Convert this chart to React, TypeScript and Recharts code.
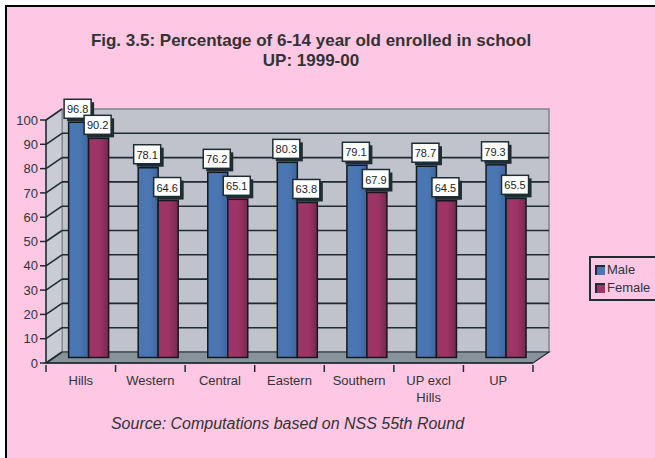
import React from "react";
import {
  BarChart,
  Bar,
  XAxis,
  YAxis,
  Legend,
  LabelList,
  ReferenceArea,
} from "recharts";

const categories = ["Hills", "Western", "Central", "Eastern", "Southern", "UP excl Hills", "UP"];
const seriesNames = ["Male", "Female"];
const male = [96.8, 78.1, 76.2, 80.3, 79.1, 78.7, 79.3];
const female = [90.2, 64.6, 65.1, 63.8, 67.9, 64.5, 65.5];
const yTicks = [0, 10, 20, 30, 40, 50, 60, 70, 80, 90, 100];

const data = categories.map((name, i) => ({ name, Male: male[i], Female: female[i] }));

const FONT = "Arial, 'Liberation Sans', sans-serif";
const PINK = "#FEC8E4";
const DARK = "#1E2C33";
// depth of the fake 3d box, and half of it for the columns
const DX = 16;
const DY = -11;
const PLOT_W = 487;

const Walls = (props: any) => {
  const { x, y, width: w, height: h } = props;
  const lines = yTicks.map((v) => {
    const yy = y + h * (1 - v / 100);
    return (
      <g key={v}>
        {v > 0 && v < 100 && (
          <line x1={x + DX} y1={yy + DY} x2={x + w + DX} y2={yy + DY} stroke={DARK} strokeWidth={1.6} />
        )}
        <line x1={x} y1={yy} x2={x + DX} y2={yy + DY} stroke={DARK} strokeWidth={1.6} />
      </g>
    );
  });
  return (
    <g>
      <rect x={x + DX} y={y + DY} width={w} height={h} fill="#C0C3CB" stroke="#7E868C" strokeWidth={1.5} />
      <polygon
        points={`${x},${y} ${x + DX},${y + DY} ${x + DX},${y + h + DY} ${x},${y + h}`}
        fill="#C9CCD3"
        stroke="#7E868C"
        strokeWidth={1}
      />
      <polygon
        points={`${x},${y + h} ${x + DX},${y + h + DY} ${x + w + DX},${y + h + DY} ${x + w},${y + h}`}
        fill="#87929A"
        stroke={DARK}
        strokeWidth={1.2}
      />
      {lines}
    </g>
  );
};

const makeColumn = (front: string, side: string, top: string) => (props: any) => {
  const { x, y, width, height } = props;
  if (!height || height <= 0) return null;
  const id = `g${front.slice(1)}`;
  return (
    <g transform={`translate(${DX / 2},${DY / 2})`}>
      <defs>
        <linearGradient id={id} x1="0" y1="0" x2="1" y2="0">
          <stop offset="0%" stopColor={front} />
          <stop offset="55%" stopColor={front} />
          <stop offset="100%" stopColor={side} />
        </linearGradient>
      </defs>
      <polygon
        points={`${x},${y} ${x + 3},${y - 2} ${x + width + 3},${y - 2} ${x + width},${y}`}
        fill={top}
      />
      <rect x={x} y={y} width={width} height={height} fill={`url(#${id})`} stroke="#15191C" strokeWidth={1.5} />
    </g>
  );
};

const ValueBox = (props: any) => {
  const { x, y, width, value } = props;
  const bw = 27;
  const bh = 19;
  const cx = x + width / 2 + DX / 2 - 1;
  const bottom = y + DY / 2 - 4;
  return (
    <g>
      <rect x={cx - bw / 2 + 3} y={bottom - bh + 3} width={bw} height={bh} fill={DARK} />
      <rect x={cx - bw / 2} y={bottom - bh} width={bw} height={bh} fill="#fff" stroke={DARK} strokeWidth={1.5} />
      <text x={cx} y={bottom - 5} textAnchor="middle" fontSize={11} fontFamily={FONT} fill="#222">
        {value}
      </text>
    </g>
  );
};

const CategoryTick = (props: any) => {
  const { x, y, payload, index } = props;
  const half = PLOT_W / categories.length / 2;
  const label: string = payload.value;
  const parts = label.length > 8 ? [label.slice(0, label.lastIndexOf(" ")), label.slice(label.lastIndexOf(" ") + 1)] : [label];
  return (
    <g>
      <line x1={x - half} y1={y - 6} x2={x - half} y2={y + 1} stroke={DARK} strokeWidth={1.5} />
      {index === categories.length - 1 && (
        <line x1={x + half} y1={y - 6} x2={x + half} y2={y + 1} stroke={DARK} strokeWidth={1.5} />
      )}
      <text x={x} y={y + 14} textAnchor="middle" fontSize={13} fontFamily={FONT} fill="#333">
        {parts.map((p, i) => (
          <tspan key={i} x={x} dy={i === 0 ? 0 : 17}>
            {p}
          </tspan>
        ))}
      </text>
    </g>
  );
};

const LegendBox = (props: any) => {
  const items = [...(props.payload || [])].sort(
    (a: any, b: any) => seriesNames.indexOf(a.value) - seriesNames.indexOf(b.value)
  );
  return (
    <div
      style={{
        border: `2px solid ${DARK}`,
        padding: "3px 4px 2px 4px",
        fontFamily: FONT,
        fontSize: 13,
        color: "#333",
        width: 58,
        lineHeight: "18px",
      }}
    >
      {items.map((it: any) => (
        <div key={it.value} style={{ display: "flex", alignItems: "center" }}>
          <span
            style={{
              display: "inline-block",
              width: 8,
              height: 8,
              background: it.color,
              borderTop: `2px solid ${DARK}`,
              borderLeft: `2px solid ${DARK}`,
              marginRight: 2,
            }}
          />
          {it.value}
        </div>
      ))}
    </div>
  );
};

export default function App() {
  return (
    <div style={{ position: "absolute", left: 0, top: 0, width: 655, height: 458, background: "#fff", overflow: "hidden" }}>
      <div
        style={{
          position: "absolute",
          left: 5,
          top: 5,
          width: 660,
          height: 470,
          background: PINK,
          border: "2px solid #000",
        }}
      />
      <div
        style={{
          position: "absolute",
          left: 0,
          top: 31,
          width: 622,
          textAlign: "center",
          fontFamily: FONT,
          fontWeight: "bold",
          fontSize: 17,
          lineHeight: "20px",
          color: "#333",
        }}
      >
        Fig. 3.5: Percentage of 6-14 year old enrolled in school
        <br />
        UP: 1999-00
      </div>
      <div
        style={{
          position: "absolute",
          left: 0,
          top: 415,
          width: 575,
          textAlign: "center",
          fontFamily: FONT,
          fontStyle: "italic",
          fontSize: 16,
          color: "#333",
        }}
      >
        Source: Computations based on NSS 55th Round
      </div>
      <div style={{ position: "absolute", left: 0, top: 0 }}>
        <BarChart
          width={655}
          height={458}
          data={data}
          margin={{ top: 120, right: 122, bottom: 60, left: 6 }}
          barCategoryGap="21%"
          barGap={0}
        >
          <ReferenceArea y1={0} y2={100} shape={<Walls />} zIndex={-100} ifOverflow="visible" />
          <XAxis
            dataKey="name"
            interval={0}
            height={35}
            axisLine={{ stroke: DARK, strokeWidth: 1.5 }}
            tickLine={false}
            tick={<CategoryTick />}
          />
          <YAxis
            width={40}
            domain={[0, 100]}
            ticks={yTicks}
            interval={0}
            axisLine={{ stroke: DARK, strokeWidth: 1.5 }}
            tickLine={{ stroke: DARK, strokeWidth: 1.5 }}
            tickSize={6}
            tick={{ fontSize: 13, fontFamily: FONT, fill: "#333" }}
          />
          <Legend
            layout="vertical"
            align="center"
            verticalAlign="middle"
            content={<LegendBox />}
            wrapperStyle={{ left: 589, top: 256, width: 70 }}
          />
          <Bar dataKey="Male" fill="#4A76B2" isAnimationActive={false} shape={makeColumn("#4A76B2", "#3E66A0", "#5C88C2")}>
            <LabelList dataKey="Male" content={<ValueBox />} />
          </Bar>
          <Bar dataKey="Female" fill="#9C3466" isAnimationActive={false} shape={makeColumn("#9C3466", "#77284F", "#B04A7A")}>
            <LabelList dataKey="Female" content={<ValueBox />} />
          </Bar>
        </BarChart>
      </div>
    </div>
  );
}
